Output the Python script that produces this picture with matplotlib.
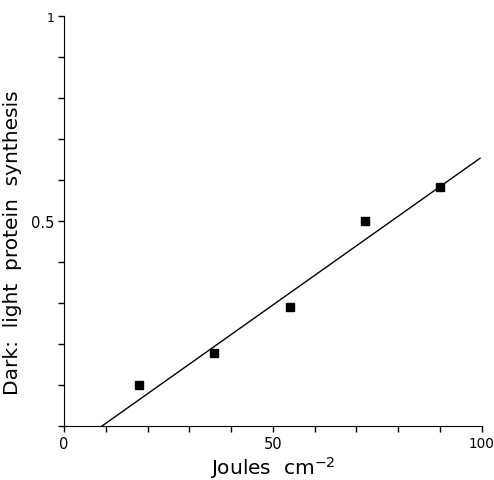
import matplotlib
matplotlib.use("Agg")
import matplotlib.pyplot as plt
from matplotlib.ticker import MultipleLocator

dose = [18, 36, 54, 72, 90]
ratio = [0.10, 0.178, 0.289, 0.501, 0.582]
fit_x = [9.1, 99.6]
fit_y = [0.0, 0.653]

plt.rcParams['font.family'] = ['DejaVu Sans']

fig = plt.figure(figsize=(4.94, 4.81), dpi=100)
ax = fig.add_axes([0.1296, 0.1123, 0.9751 - 0.1296, 0.9647 - 0.1123])

ax.plot(fit_x, fit_y, color='black', lw=1.0)
ax.plot(dose, ratio, 's', color='black', markersize=6)

ax.set_xlim(0, 100)
ax.set_ylim(0, 1)
ax.spines['top'].set_visible(False)
ax.spines['right'].set_visible(False)
ax.xaxis.set_minor_locator(MultipleLocator(10))
ax.yaxis.set_minor_locator(MultipleLocator(0.1))
ax.set_xticks([0, 50, 100])
ax.set_xticklabels(['0', '50', '100'], fontsize=10.5)
ax.get_xticklabels()[2].set_fontsize(9.8)
ax.set_yticks([0, 0.5, 1])
ax.set_yticklabels(['', '0.5', '1'], fontsize=10.5)
ax.get_yticklabels()[2].set_fontsize(9)
ax.tick_params(which='both', direction='out', length=4, width=1)
ax.tick_params(axis='y', pad=3)
ax.set_xlabel('Joules  cm$^{-2}$', fontsize=14.5, labelpad=2)
ax.set_ylabel('Dark:  light  protein  synthesis', fontsize=14.5)
ax.yaxis.set_label_coords(-0.1006, 0.449)

fig.savefig('out.png', dpi=100)
